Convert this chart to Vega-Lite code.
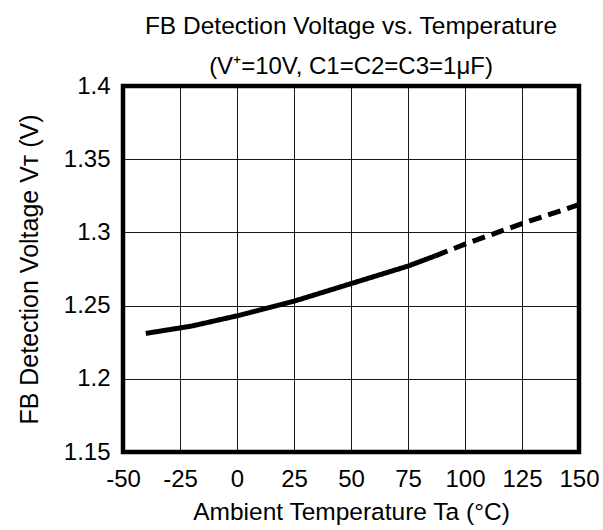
{
  "$schema": "https://vega.github.io/schema/vega-lite/v6.json",
  "autosize": "none",
  "padding": {"left": 123, "top": 86, "right": 24, "bottom": 78},
  "width": 456,
  "height": 366,
  "background": "white",
  "config": {
    "font": "Liberation Sans",
    "view": {"stroke": "black", "strokeWidth": 4.5}
  },
  "title": {
    "text": "FB Detection Voltage vs. Temperature",
    "subtitle": "(V⁺=10V, C1=C2=C3=1μF)",
    "font": "Liberation Sans",
    "subtitleFont": "Liberation Sans",
    "fontSize": 24.5,
    "subtitleFontSize": 24,
    "fontWeight": "normal",
    "color": "black",
    "subtitleColor": "black",
    "anchor": "middle",
    "frame": "group",
    "offset": -6,
    "subtitlePadding": 16
  },
  "data": {
    "values": [
      {"t": -40, "v": 1.231, "seg": "measured"},
      {"t": -20, "v": 1.236, "seg": "measured"},
      {"t": 0, "v": 1.243, "seg": "measured"},
      {"t": 25, "v": 1.253, "seg": "measured"},
      {"t": 50, "v": 1.265, "seg": "measured"},
      {"t": 75, "v": 1.277, "seg": "measured"},
      {"t": 87, "v": 1.284, "seg": "measured"},
      {"t": 87, "v": 1.284, "seg": "extrapolated"},
      {"t": 100, "v": 1.292, "seg": "extrapolated"},
      {"t": 125, "v": 1.306, "seg": "extrapolated"},
      {"t": 150, "v": 1.319, "seg": "extrapolated"}
    ]
  },
  "mark": {"type": "line", "color": "black", "strokeWidth": 5, "strokeCap": "butt", "clip": true},
  "encoding": {
    "x": {
      "field": "t",
      "type": "quantitative",
      "scale": {"domain": [-50, 150], "nice": false, "zero": false},
      "axis": {
        "values": [-50, -25, 0, 25, 50, 75, 100, 125, 150],
        "labelExpr": "'' + datum.value",
        "labelOverlap": false,
        "labelFlush": false,
        "labelBound": false,
        "title": "Ambient Temperature  Ta  (°C)",
        "titleFontSize": 24.5,
        "titleFontWeight": "normal",
        "titleColor": "black",
        "titlePadding": 9,
        "labelFontSize": 24,
        "labelColor": "black",
        "labelPadding": 15,
        "ticks": false,
        "domain": false,
        "grid": true,
        "gridColor": "black",
        "gridWidth": 1,
        "gridOpacity": 0.9
      }
    },
    "y": {
      "field": "v",
      "type": "quantitative",
      "scale": {"domain": [1.15, 1.4], "nice": false, "zero": false},
      "axis": {
        "values": [1.15, 1.2, 1.25, 1.3, 1.35, 1.4],
        "format": "~g",
        "labelOverlap": false,
        "labelFlush": false,
        "title": "FB Detection Voltage  Vᴛ  (V)",
        "titleFontSize": 25,
        "titleFontWeight": "normal",
        "titleColor": "black",
        "titlePadding": 21,
        "labelFontSize": 24,
        "labelColor": "black",
        "labelPadding": 13,
        "ticks": false,
        "domain": false,
        "grid": true,
        "gridColor": "black",
        "gridWidth": 1,
        "gridOpacity": 0.9
      }
    },
    "detail": {"field": "seg"},
    "strokeDash": {
      "field": "seg",
      "type": "nominal",
      "scale": {"domain": ["measured", "extrapolated"], "range": [[1, 0], [13, 7]]},
      "legend": null
    }
  }
}
